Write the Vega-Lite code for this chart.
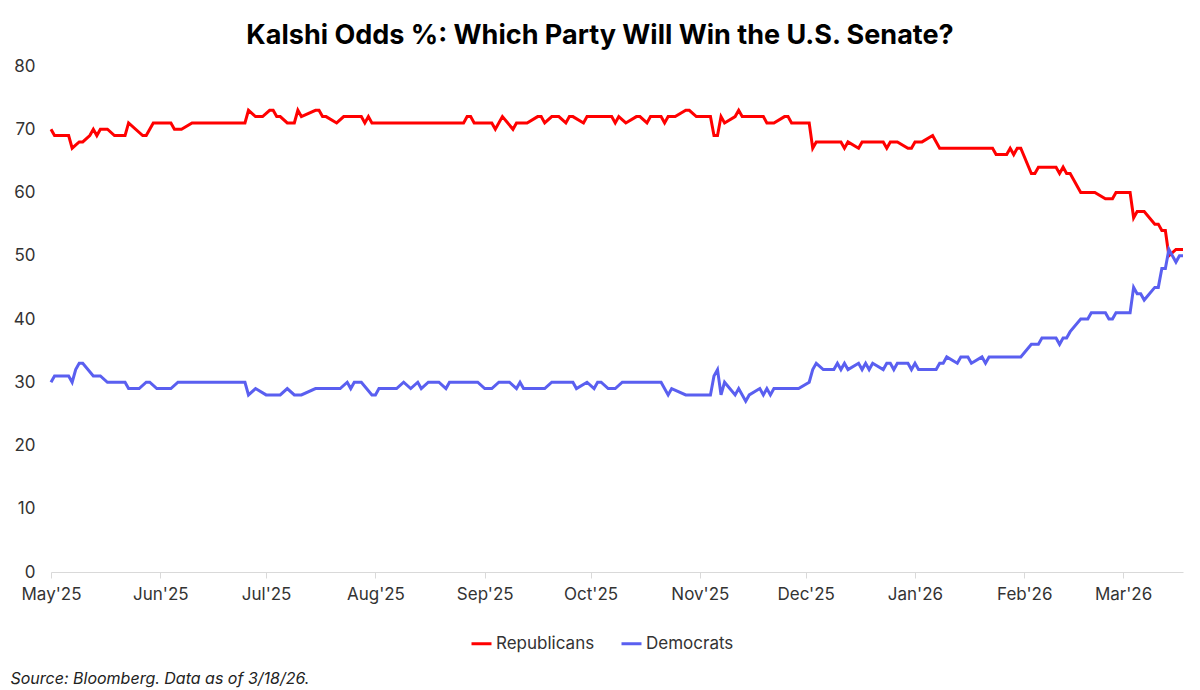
{
  "$schema": "https://vega.github.io/schema/vega-lite/v6.json",
  "width": 1132,
  "height": 506,
  "autosize": {"type": "none"},
  "padding": {"left": 51, "top": 66, "right": 17, "bottom": 118},
  "background": "white",
  "config": {"font": "Inter", "view": {"stroke": null}},
  "title": {
    "text": "Kalshi Odds %: Which Party Will Win the U.S. Senate?",
    "fontSize": 27,
    "fontWeight": "bold",
    "color": "#000000",
    "anchor": "middle",
    "baseline": "alphabetic",
    "offset": -14,
    "dx": -17
  },
  "datasets": {
    "rep": [
      {"date": "2025-05-01", "pct": 70}, {"date": "2025-05-02", "pct": 69}, {"date": "2025-05-06", "pct": 69},
      {"date": "2025-05-07", "pct": 67}, {"date": "2025-05-09", "pct": 68}, {"date": "2025-05-10", "pct": 68},
      {"date": "2025-05-12", "pct": 69}, {"date": "2025-05-13", "pct": 70}, {"date": "2025-05-14", "pct": 69},
      {"date": "2025-05-15", "pct": 70}, {"date": "2025-05-17", "pct": 70}, {"date": "2025-05-19", "pct": 69},
      {"date": "2025-05-22", "pct": 69}, {"date": "2025-05-23", "pct": 71}, {"date": "2025-05-27", "pct": 69},
      {"date": "2025-05-28", "pct": 69}, {"date": "2025-05-30", "pct": 71}, {"date": "2025-06-04", "pct": 71},
      {"date": "2025-06-05", "pct": 70}, {"date": "2025-06-07", "pct": 70}, {"date": "2025-06-10", "pct": 71},
      {"date": "2025-06-25", "pct": 71}, {"date": "2025-06-26", "pct": 73}, {"date": "2025-06-28", "pct": 72},
      {"date": "2025-06-30", "pct": 72}, {"date": "2025-07-02", "pct": 73}, {"date": "2025-07-03", "pct": 73},
      {"date": "2025-07-04", "pct": 72}, {"date": "2025-07-05", "pct": 72}, {"date": "2025-07-07", "pct": 71},
      {"date": "2025-07-09", "pct": 71}, {"date": "2025-07-10", "pct": 73}, {"date": "2025-07-11", "pct": 72},
      {"date": "2025-07-15", "pct": 73}, {"date": "2025-07-16", "pct": 73}, {"date": "2025-07-17", "pct": 72},
      {"date": "2025-07-18", "pct": 72}, {"date": "2025-07-21", "pct": 71}, {"date": "2025-07-23", "pct": 72},
      {"date": "2025-07-28", "pct": 72}, {"date": "2025-07-29", "pct": 71}, {"date": "2025-07-30", "pct": 72},
      {"date": "2025-07-31", "pct": 71}, {"date": "2025-08-26", "pct": 71}, {"date": "2025-08-27", "pct": 72},
      {"date": "2025-08-28", "pct": 72}, {"date": "2025-08-29", "pct": 71}, {"date": "2025-09-03", "pct": 71},
      {"date": "2025-09-04", "pct": 70}, {"date": "2025-09-06", "pct": 72}, {"date": "2025-09-09", "pct": 70},
      {"date": "2025-09-10", "pct": 71}, {"date": "2025-09-13", "pct": 71}, {"date": "2025-09-16", "pct": 72},
      {"date": "2025-09-17", "pct": 72}, {"date": "2025-09-18", "pct": 71}, {"date": "2025-09-20", "pct": 72},
      {"date": "2025-09-22", "pct": 72}, {"date": "2025-09-24", "pct": 71}, {"date": "2025-09-25", "pct": 72},
      {"date": "2025-09-26", "pct": 72}, {"date": "2025-09-29", "pct": 71}, {"date": "2025-09-30", "pct": 72},
      {"date": "2025-10-07", "pct": 72}, {"date": "2025-10-08", "pct": 71}, {"date": "2025-10-09", "pct": 72},
      {"date": "2025-10-11", "pct": 71}, {"date": "2025-10-14", "pct": 72}, {"date": "2025-10-15", "pct": 72},
      {"date": "2025-10-17", "pct": 71}, {"date": "2025-10-18", "pct": 72}, {"date": "2025-10-21", "pct": 72},
      {"date": "2025-10-22", "pct": 71}, {"date": "2025-10-23", "pct": 72}, {"date": "2025-10-25", "pct": 72},
      {"date": "2025-10-28", "pct": 73}, {"date": "2025-10-29", "pct": 73}, {"date": "2025-10-31", "pct": 72},
      {"date": "2025-11-04", "pct": 72}, {"date": "2025-11-05", "pct": 69}, {"date": "2025-11-06", "pct": 69},
      {"date": "2025-11-07", "pct": 72}, {"date": "2025-11-08", "pct": 71}, {"date": "2025-11-11", "pct": 72},
      {"date": "2025-11-12", "pct": 73}, {"date": "2025-11-13", "pct": 72}, {"date": "2025-11-19", "pct": 72},
      {"date": "2025-11-20", "pct": 71}, {"date": "2025-11-22", "pct": 71}, {"date": "2025-11-25", "pct": 72},
      {"date": "2025-11-26", "pct": 72}, {"date": "2025-11-27", "pct": 71}, {"date": "2025-12-02", "pct": 71},
      {"date": "2025-12-03", "pct": 67}, {"date": "2025-12-04", "pct": 68}, {"date": "2025-12-11", "pct": 68},
      {"date": "2025-12-12", "pct": 67}, {"date": "2025-12-13", "pct": 68}, {"date": "2025-12-16", "pct": 67},
      {"date": "2025-12-17", "pct": 68}, {"date": "2025-12-23", "pct": 68}, {"date": "2025-12-24", "pct": 67},
      {"date": "2025-12-25", "pct": 68}, {"date": "2025-12-27", "pct": 68}, {"date": "2025-12-30", "pct": 67},
      {"date": "2025-12-31", "pct": 67}, {"date": "2026-01-01", "pct": 68}, {"date": "2026-01-03", "pct": 68},
      {"date": "2026-01-06", "pct": 69}, {"date": "2026-01-08", "pct": 67}, {"date": "2026-01-23", "pct": 67},
      {"date": "2026-01-24", "pct": 66}, {"date": "2026-01-27", "pct": 66}, {"date": "2026-01-28", "pct": 67},
      {"date": "2026-01-29", "pct": 66}, {"date": "2026-01-30", "pct": 67}, {"date": "2026-01-31", "pct": 67},
      {"date": "2026-02-03", "pct": 63}, {"date": "2026-02-04", "pct": 63}, {"date": "2026-02-05", "pct": 64},
      {"date": "2026-02-10", "pct": 64}, {"date": "2026-02-11", "pct": 63}, {"date": "2026-02-12", "pct": 64},
      {"date": "2026-02-13", "pct": 63}, {"date": "2026-02-14", "pct": 63}, {"date": "2026-02-17", "pct": 60},
      {"date": "2026-02-21", "pct": 60}, {"date": "2026-02-24", "pct": 59}, {"date": "2026-02-26", "pct": 59},
      {"date": "2026-02-27", "pct": 60}, {"date": "2026-03-03", "pct": 60}, {"date": "2026-03-04", "pct": 56},
      {"date": "2026-03-05", "pct": 57}, {"date": "2026-03-07", "pct": 57}, {"date": "2026-03-10", "pct": 55},
      {"date": "2026-03-11", "pct": 55}, {"date": "2026-03-12", "pct": 54}, {"date": "2026-03-13", "pct": 54},
      {"date": "2026-03-14", "pct": 50}, {"date": "2026-03-16", "pct": 51}, {"date": "2026-03-18", "pct": 51}
    ],
    "dem": [
      {"date": "2025-05-01", "pct": 30}, {"date": "2025-05-02", "pct": 31}, {"date": "2025-05-06", "pct": 31},
      {"date": "2025-05-07", "pct": 30}, {"date": "2025-05-08", "pct": 32}, {"date": "2025-05-09", "pct": 33},
      {"date": "2025-05-10", "pct": 33}, {"date": "2025-05-13", "pct": 31}, {"date": "2025-05-15", "pct": 31},
      {"date": "2025-05-17", "pct": 30}, {"date": "2025-05-22", "pct": 30}, {"date": "2025-05-23", "pct": 29},
      {"date": "2025-05-26", "pct": 29}, {"date": "2025-05-28", "pct": 30}, {"date": "2025-05-29", "pct": 30},
      {"date": "2025-05-31", "pct": 29}, {"date": "2025-06-04", "pct": 29}, {"date": "2025-06-06", "pct": 30},
      {"date": "2025-06-25", "pct": 30}, {"date": "2025-06-26", "pct": 28}, {"date": "2025-06-28", "pct": 29},
      {"date": "2025-07-01", "pct": 28}, {"date": "2025-07-05", "pct": 28}, {"date": "2025-07-07", "pct": 29},
      {"date": "2025-07-09", "pct": 28}, {"date": "2025-07-11", "pct": 28}, {"date": "2025-07-15", "pct": 29},
      {"date": "2025-07-22", "pct": 29}, {"date": "2025-07-24", "pct": 30}, {"date": "2025-07-25", "pct": 29},
      {"date": "2025-07-26", "pct": 30}, {"date": "2025-07-28", "pct": 30}, {"date": "2025-07-31", "pct": 28},
      {"date": "2025-08-01", "pct": 28}, {"date": "2025-08-02", "pct": 29}, {"date": "2025-08-07", "pct": 29},
      {"date": "2025-08-09", "pct": 30}, {"date": "2025-08-11", "pct": 29}, {"date": "2025-08-13", "pct": 30},
      {"date": "2025-08-14", "pct": 29}, {"date": "2025-08-16", "pct": 30}, {"date": "2025-08-19", "pct": 30},
      {"date": "2025-08-21", "pct": 29}, {"date": "2025-08-22", "pct": 30}, {"date": "2025-08-30", "pct": 30},
      {"date": "2025-09-01", "pct": 29}, {"date": "2025-09-03", "pct": 29}, {"date": "2025-09-05", "pct": 30},
      {"date": "2025-09-08", "pct": 30}, {"date": "2025-09-10", "pct": 29}, {"date": "2025-09-11", "pct": 30},
      {"date": "2025-09-12", "pct": 29}, {"date": "2025-09-18", "pct": 29}, {"date": "2025-09-20", "pct": 30},
      {"date": "2025-09-26", "pct": 30}, {"date": "2025-09-27", "pct": 29}, {"date": "2025-09-30", "pct": 30},
      {"date": "2025-10-02", "pct": 29}, {"date": "2025-10-03", "pct": 30}, {"date": "2025-10-04", "pct": 30},
      {"date": "2025-10-06", "pct": 29}, {"date": "2025-10-08", "pct": 29}, {"date": "2025-10-10", "pct": 30},
      {"date": "2025-10-21", "pct": 30}, {"date": "2025-10-23", "pct": 28}, {"date": "2025-10-24", "pct": 29},
      {"date": "2025-10-28", "pct": 28}, {"date": "2025-11-04", "pct": 28}, {"date": "2025-11-05", "pct": 31},
      {"date": "2025-11-06", "pct": 32}, {"date": "2025-11-07", "pct": 28}, {"date": "2025-11-08", "pct": 30},
      {"date": "2025-11-11", "pct": 28}, {"date": "2025-11-12", "pct": 29}, {"date": "2025-11-14", "pct": 27},
      {"date": "2025-11-15", "pct": 28}, {"date": "2025-11-18", "pct": 29}, {"date": "2025-11-19", "pct": 28},
      {"date": "2025-11-20", "pct": 29}, {"date": "2025-11-21", "pct": 28}, {"date": "2025-11-22", "pct": 29},
      {"date": "2025-11-29", "pct": 29}, {"date": "2025-12-02", "pct": 30}, {"date": "2025-12-03", "pct": 32},
      {"date": "2025-12-04", "pct": 33}, {"date": "2025-12-06", "pct": 32}, {"date": "2025-12-09", "pct": 32},
      {"date": "2025-12-10", "pct": 33}, {"date": "2025-12-11", "pct": 32}, {"date": "2025-12-12", "pct": 33},
      {"date": "2025-12-13", "pct": 32}, {"date": "2025-12-16", "pct": 33}, {"date": "2025-12-17", "pct": 32},
      {"date": "2025-12-18", "pct": 33}, {"date": "2025-12-19", "pct": 32}, {"date": "2025-12-20", "pct": 33},
      {"date": "2025-12-23", "pct": 32}, {"date": "2025-12-24", "pct": 33}, {"date": "2025-12-25", "pct": 33},
      {"date": "2025-12-26", "pct": 32}, {"date": "2025-12-27", "pct": 33}, {"date": "2025-12-30", "pct": 33},
      {"date": "2025-12-31", "pct": 32}, {"date": "2026-01-01", "pct": 33}, {"date": "2026-01-02", "pct": 32},
      {"date": "2026-01-07", "pct": 32}, {"date": "2026-01-08", "pct": 33}, {"date": "2026-01-09", "pct": 33},
      {"date": "2026-01-10", "pct": 34}, {"date": "2026-01-13", "pct": 33}, {"date": "2026-01-14", "pct": 34},
      {"date": "2026-01-16", "pct": 34}, {"date": "2026-01-17", "pct": 33}, {"date": "2026-01-20", "pct": 34},
      {"date": "2026-01-21", "pct": 33}, {"date": "2026-01-22", "pct": 34}, {"date": "2026-01-31", "pct": 34},
      {"date": "2026-02-03", "pct": 36}, {"date": "2026-02-05", "pct": 36}, {"date": "2026-02-06", "pct": 37},
      {"date": "2026-02-10", "pct": 37}, {"date": "2026-02-11", "pct": 36}, {"date": "2026-02-12", "pct": 37},
      {"date": "2026-02-13", "pct": 37}, {"date": "2026-02-14", "pct": 38}, {"date": "2026-02-17", "pct": 40},
      {"date": "2026-02-19", "pct": 40}, {"date": "2026-02-20", "pct": 41}, {"date": "2026-02-24", "pct": 41},
      {"date": "2026-02-25", "pct": 40}, {"date": "2026-02-26", "pct": 40}, {"date": "2026-02-27", "pct": 41},
      {"date": "2026-03-03", "pct": 41}, {"date": "2026-03-04", "pct": 45}, {"date": "2026-03-05", "pct": 44},
      {"date": "2026-03-06", "pct": 44}, {"date": "2026-03-07", "pct": 43}, {"date": "2026-03-10", "pct": 45},
      {"date": "2026-03-11", "pct": 45}, {"date": "2026-03-12", "pct": 48}, {"date": "2026-03-13", "pct": 48},
      {"date": "2026-03-14", "pct": 51}, {"date": "2026-03-16", "pct": 49}, {"date": "2026-03-17", "pct": 50},
      {"date": "2026-03-18", "pct": 50}
    ]
  },
  "layer": [
    {
      "data": {"name": "rep"},
      "transform": [{"calculate": "'Republicans'", "as": "party"}],
      "mark": {"type": "line", "strokeWidth": 3},
      "encoding": {
        "x": {"field": "date", "type": "temporal"},
        "y": {"field": "pct", "type": "quantitative"},
        "color": {"field": "party", "type": "nominal"}
      }
    },
    {
      "data": {"name": "dem"},
      "transform": [{"calculate": "'Democrats'", "as": "party"}],
      "mark": {"type": "line", "strokeWidth": 3},
      "encoding": {
        "x": {"field": "date", "type": "temporal"},
        "y": {"field": "pct", "type": "quantitative"},
        "color": {"field": "party", "type": "nominal"}
      }
    }
  ],
  "resolve": {"scale": {"color": "shared"}},
  "encoding": {
    "x": {
      "field": "date",
      "type": "temporal",
      "scale": {"type": "utc", "nice": false},
      "axis": {
        "tickCount": {"interval": "month", "step": 1},
        "labelExpr": "utcFormat(datum.value, \"%b'%y\")",
        "grid": false,
        "domainColor": "#d9d9d9",
        "tickColor": "#d9d9d9",
        "tickSize": 6,
        "labelFontSize": 17,
        "labelColor": "#333333",
        "labelPadding": 8,
        "labelFlush": false,
        "labelOverlap": false,
        "title": "Source: Bloomberg. Data as of 3/18/26.",
        "titleFontSize": 16,
        "titleFontStyle": "italic",
        "titleFontWeight": "normal",
        "titleColor": "#222222",
        "titleAnchor": "start",
        "titleAlign": "left",
        "titleBaseline": "alphabetic",
        "titleX": -41,
        "titleY": 111
      }
    },
    "y": {
      "field": "pct",
      "type": "quantitative",
      "scale": {"domain": [0, 80]},
      "axis": {
        "values": [0, 10, 20, 30, 40, 50, 60, 70, 80],
        "domain": false,
        "ticks": false,
        "grid": false,
        "labelFontSize": 17,
        "labelColor": "#333333",
        "labelPadding": 16,
        "title": null
      }
    },
    "color": {
      "field": "party",
      "type": "nominal",
      "scale": {"domain": ["Republicans", "Democrats"], "range": ["#ff0000", "#5a5ff0"]},
      "legend": {
        "orient": "none",
        "legendX": 419,
        "legendY": 566,
        "direction": "horizontal",
        "title": null,
        "symbolType": "stroke",
        "symbolStrokeWidth": 3,
        "symbolSize": 400,
        "labelFontSize": 17,
        "labelColor": "#333333",
        "labelOffset": 3,
        "columnPadding": 20
      }
    }
  }
}
